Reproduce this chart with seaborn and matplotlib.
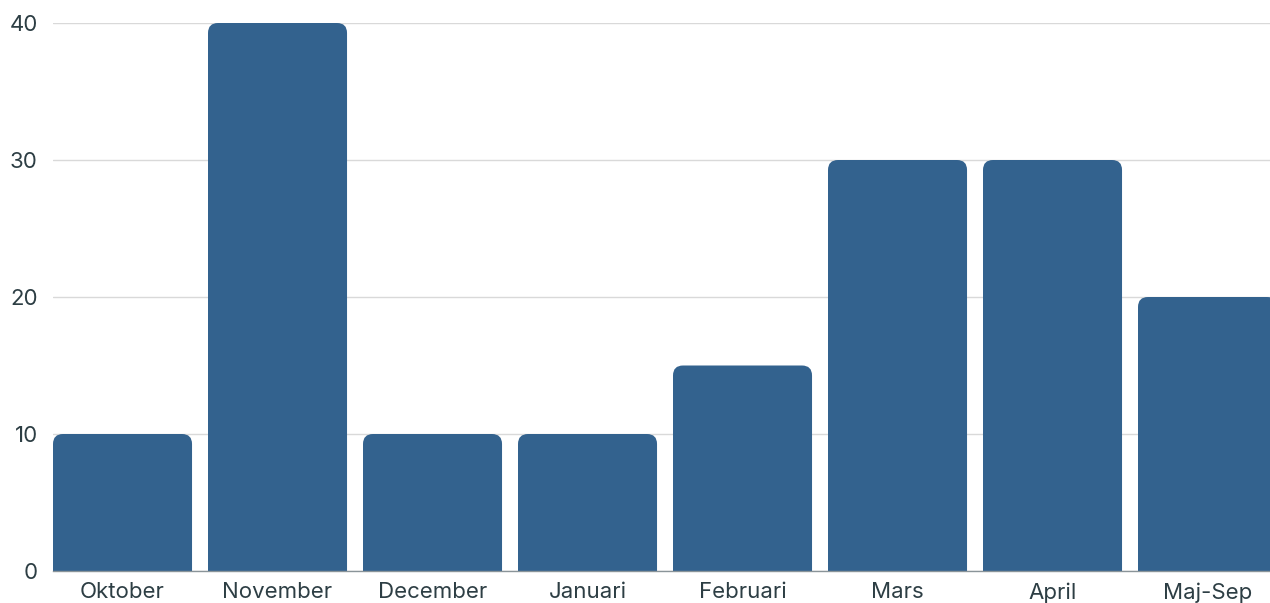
import matplotlib
matplotlib.use("Agg")
import matplotlib.pyplot as plt
from matplotlib.patches import FancyBboxPatch
import seaborn as sns
import pandas as pd

# Datos del gráfico
meses = ['Oktober', 'November', 'December', 'Januari', 'Februari', 'Mars', 'April', 'Maj-Sep']
valores = [10, 40, 10, 10, 15, 30, 30, 20]

df = pd.DataFrame({'Mes': meses, 'Valor': valores})

sns.set_theme(style="white")
plt.rcParams['font.family'] = ['Inter', 'DejaVu Sans']

W, H = 1270, 603
fig = plt.figure(figsize=(W / 100, H / 100), dpi=100)

ancho = 0.897
paso_px = 155.0
x0_px, base_px, top_px = 53, 571, 23
ax_w_px = (7 + ancho) * paso_px
ax = fig.add_axes([x0_px / W, (H - base_px) / H, ax_w_px / W, (base_px - top_px) / H])

color = '#33628e'
sns.barplot(data=df, x='Mes', y='Valor', color=color, width=ancho, ax=ax, saturation=1)

ax.set_xlim(-ancho / 2, 7 + ancho / 2)
ax.set_ylim(0, 40)

# Reemplazamos las barras por barras con esquinas superiores redondeadas
radio_px = 10
px_x = paso_px  # px por unidad x
px_y = (base_px - top_px) / 40.0  # px por unidad y
aspecto = px_x / px_y
for p in list(ax.patches):
    x, w, h = p.get_x(), p.get_width(), p.get_height()
    p.remove()
    extra = 2.0
    nueva = FancyBboxPatch((x, -extra), w, h + extra,
                           boxstyle=f"round,pad=0,rounding_size={radio_px / px_x}",
                           mutation_aspect=aspecto,
                           facecolor=color, edgecolor='none', zorder=2)
    ax.add_patch(nueva)

ax.set_yticks([0, 10, 20, 30, 40])
ax.yaxis.grid(True, color='#d9d9d9', linewidth=1)
ax.set_axisbelow(True)
for s in ['top', 'right', 'left']:
    ax.spines[s].set_visible(False)
ax.spines['bottom'].set_color('#8a9499')
ax.spines['bottom'].set_linewidth(1)
ax.spines['bottom'].set_zorder(3)

ax.tick_params(axis='y', length=0, pad=11, labelsize=16, labelcolor='#2d3e44')
ax.tick_params(axis='x', length=0, pad=8, labelsize=16, labelcolor='#2d3e44')
ax.set_xlabel('')
ax.set_ylabel('')

fig.savefig('out.png', dpi=100)
